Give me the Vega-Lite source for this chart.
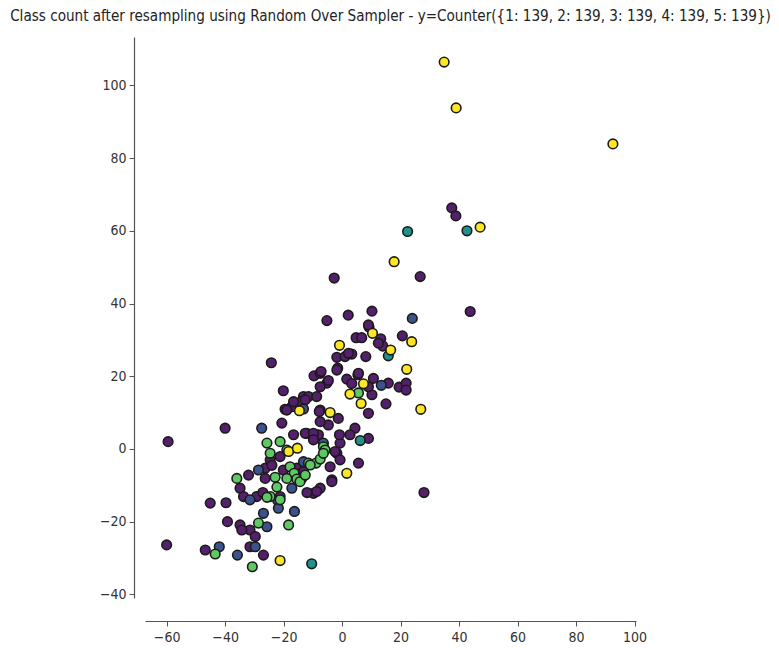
{
  "$schema": "https://vega.github.io/schema/vega-lite/v6.json",
  "autosize": {"type": "none"},
  "padding": {"left": 145, "top": 37, "right": 143, "bottom": 50},
  "width": 491,
  "height": 561,
  "background": "white",
  "title": {
    "text": "Class count after resampling using Random Over Sampler - y=Counter({1: 139, 2: 139, 3: 139, 4: 139, 5: 139})",
    "font": "DejaVu Sans Condensed",
    "fontSize": 15.1,
    "fontWeight": "normal",
    "color": "#222222",
    "anchor": "middle",
    "frame": "group",
    "offset": 13
  },
  "config": {
    "view": {"stroke": null},
    "axis": {
      "grid": false,
      "domainColor": "#555555",
      "domainWidth": 1.2,
      "tickColor": "#555555",
      "tickSize": 5,
      "labelFont": "DejaVu Sans Condensed",
      "labelFontSize": 14,
      "labelColor": "#333333",
      "title": null
    }
  },
  "data": {
    "values": [
      {"x": 37.5, "y": 66.3, "c": 1}, {"x": 38.9, "y": 64.1, "c": 1}, {"x": 26.7, "y": 47.4, "c": 1}, {"x": -2.7, "y": 47, "c": 1},
      {"x": -5.2, "y": 35.3, "c": 1}, {"x": 2.1, "y": 36.8, "c": 1}, {"x": 10.2, "y": 37.9, "c": 1}, {"x": 43.8, "y": 37.8, "c": 1},
      {"x": 28, "y": -12, "c": 1}, {"x": -59.5, "y": 2, "c": 1}, {"x": -60, "y": -26.4, "c": 1},
      {"x": 9.2, "y": 33.5, "c": 1}, {"x": 4.8, "y": 30.6, "c": 1}, {"x": 6.7, "y": 30.6, "c": 1}, {"x": 13.2, "y": 30.3, "c": 1},
      {"x": 20.6, "y": 31.1, "c": 1}, {"x": 13.9, "y": 28.3, "c": 1}, {"x": -1.8, "y": 25.2, "c": 1}, {"x": 1, "y": 25.4, "c": 1},
      {"x": 3.3, "y": 26.1, "c": 1}, {"x": 8.1, "y": 25.4, "c": 1}, {"x": -1.5, "y": 22.2, "c": 1}, {"x": 9, "y": 34.1, "c": 1},
      {"x": -9.6, "y": 20.1, "c": 1}, {"x": -7.5, "y": 20.8, "c": 1}, {"x": -5.2, "y": 18.1, "c": 1}, {"x": 1.6, "y": 19.2, "c": 1},
      {"x": 5.4, "y": 20.4, "c": 1}, {"x": 10.7, "y": 19.4, "c": 1}, {"x": 15.8, "y": 18.1, "c": 1}, {"x": 19.5, "y": 17, "c": 1},
      {"x": 21.9, "y": 18.1, "c": 1}, {"x": 21.9, "y": 16.2, "c": 1}, {"x": 10.2, "y": 14.9, "c": 1}, {"x": 15, "y": 12.4, "c": 1},
      {"x": -13.2, "y": 14.4, "c": 1}, {"x": -7.5, "y": 10.7, "c": 1}, {"x": -4.7, "y": 6.6, "c": 1}, {"x": 9, "y": 9.8, "c": 1},
      {"x": 4.4, "y": 5.7, "c": 1}, {"x": 9, "y": 2.9, "c": 1}, {"x": -12.1, "y": 4.3, "c": 1}, {"x": -8.1, "y": 3.9, "c": 1},
      {"x": -0.7, "y": 1.6, "c": 1}, {"x": -24.2, "y": 23.7, "c": 1}, {"x": -7.2, "y": 21.3, "c": 1}, {"x": -4.7, "y": 18.8, "c": 1},
      {"x": -1.8, "y": 21.7, "c": 1}, {"x": -7.5, "y": 17.1, "c": 1}, {"x": -20.1, "y": 16, "c": 1}, {"x": -11.5, "y": 14.4, "c": 1},
      {"x": -8.7, "y": 14.4, "c": 1}, {"x": -14, "y": 13, "c": 1}, {"x": -19.5, "y": 10.9, "c": 1}, {"x": -17.2, "y": 11.6, "c": 1},
      {"x": -7.8, "y": 10.3, "c": 1}, {"x": -20.6, "y": 7.1, "c": 1}, {"x": -40, "y": 5.7, "c": 1}, {"x": -16.6, "y": 3.9, "c": 1},
      {"x": -12.6, "y": 4.3, "c": 1}, {"x": -9.8, "y": 4.3, "c": 1}, {"x": 2.7, "y": 3.9, "c": 1}, {"x": -24.6, "y": -3, "c": 1},
      {"x": -21.2, "y": -2.1, "c": 1}, {"x": -1.8, "y": -1.2, "c": 1}, {"x": -0.7, "y": -3, "c": 1}, {"x": -4.1, "y": -4.9, "c": 1},
      {"x": -15.5, "y": -5.3, "c": 1}, {"x": -13.2, "y": -6.2, "c": 1}, {"x": -20.1, "y": -5.8, "c": 1}, {"x": -21.2, "y": -13.1, "c": 1},
      {"x": -26.3, "y": -8.1, "c": 1}, {"x": -26.3, "y": -5.3, "c": 1}, {"x": -32, "y": -7.2, "c": 1}, {"x": -34.9, "y": -10.8, "c": 1},
      {"x": -33.7, "y": -13.1, "c": 1}, {"x": -29.2, "y": -13.1, "c": 1}, {"x": -45.1, "y": -14.9, "c": 1}, {"x": -39.7, "y": -14.8, "c": 1},
      {"x": -39.2, "y": -20, "c": 1}, {"x": -34.9, "y": -20.9, "c": 1}, {"x": -31.5, "y": -22.3, "c": 1}, {"x": -34.3, "y": -22.3, "c": 1},
      {"x": -29.7, "y": -24.1, "c": 1}, {"x": -31.5, "y": -26.9, "c": 1}, {"x": -46.8, "y": -27.8, "c": 1}, {"x": -26.9, "y": -29.2, "c": 1},
      {"x": -3.5, "y": -8.5, "c": 1}, {"x": -9.8, "y": -12.2, "c": 1}, {"x": -7.5, "y": -10.8, "c": 1}, {"x": -27.1, "y": -12, "c": 1},
      {"x": 5.6, "y": 20.8, "c": 1}, {"x": 3.3, "y": 18, "c": 1}, {"x": 9, "y": 17.1, "c": 1}, {"x": -16.6, "y": 13, "c": 1},
      {"x": -12.6, "y": 13.5, "c": 1}, {"x": -1.3, "y": 8.4, "c": 1}, {"x": -7.5, "y": 7.5, "c": 1}, {"x": -0.9, "y": 3.9, "c": 1},
      {"x": -9.8, "y": 2.5, "c": 1}, {"x": 5.6, "y": -3.9, "c": 1}, {"x": -3.5, "y": -9, "c": 1}, {"x": -8.7, "y": -11.7, "c": 1},
      {"x": -18.9, "y": 10.7, "c": 1}, {"x": -2.4, "y": -0.7, "c": 1}, {"x": 12.4, "y": 29.1, "c": 1}, {"x": 2.2, "y": 26.3, "c": 1},
      {"x": -24, "y": -4.5, "c": 1}, {"x": -12, "y": -12, "c": 1},
      {"x": 24, "y": 35.9, "c": 2}, {"x": 13.4, "y": 17.5, "c": 2}, {"x": -13.2, "y": 11, "c": 2}, {"x": -27.5, "y": 5.7, "c": 2},
      {"x": -6.4, "y": 1.6, "c": 2}, {"x": -13.2, "y": -3.5, "c": 2}, {"x": -17.2, "y": -10.8, "c": 2}, {"x": -28.6, "y": -5.8, "c": 2},
      {"x": -31.5, "y": -14, "c": 2}, {"x": -26.9, "y": -17.7, "c": 2}, {"x": -25.7, "y": -21.4, "c": 2}, {"x": -16.3, "y": -17.2, "c": 2},
      {"x": -29.7, "y": -26.9, "c": 2}, {"x": -42, "y": -26.9, "c": 2}, {"x": -35.8, "y": -29.2, "c": 2}, {"x": -22, "y": -14.2, "c": 2},
      {"x": -21.8, "y": -16.3, "c": 2},
      {"x": 42.7, "y": 60, "c": 3}, {"x": 22.4, "y": 59.8, "c": 3}, {"x": 15.8, "y": 25.6, "c": 3}, {"x": 6.2, "y": 2.3, "c": 3},
      {"x": -10.4, "y": -31.6, "c": 3},
      {"x": 5.6, "y": 15.4, "c": 4}, {"x": -6.4, "y": 0.6, "c": 4}, {"x": -25.7, "y": 1.6, "c": 4}, {"x": -21.2, "y": 2, "c": 4},
      {"x": -5.8, "y": -0.3, "c": 4}, {"x": -24.6, "y": -1.2, "c": 4}, {"x": -11.5, "y": -3.9, "c": 4}, {"x": -8.9, "y": -3.9, "c": 4},
      {"x": -7.5, "y": -2.8, "c": 4}, {"x": -6.4, "y": -1.2, "c": 4}, {"x": -17.8, "y": -4.9, "c": 4}, {"x": -16.4, "y": -6.7, "c": 4},
      {"x": -13.8, "y": -8.1, "c": 4}, {"x": -15.5, "y": -8.3, "c": 4}, {"x": -18.9, "y": -8.1, "c": 4}, {"x": -22.3, "y": -10.5, "c": 4},
      {"x": -24.6, "y": -13.1, "c": 4}, {"x": -25.7, "y": -13.3, "c": 4}, {"x": -36, "y": -8.1, "c": 4}, {"x": -28.6, "y": -20.4, "c": 4},
      {"x": -18.3, "y": -20.9, "c": 4}, {"x": -43.4, "y": -28.9, "c": 4}, {"x": -30.7, "y": -32.4, "c": 4}, {"x": -18.9, "y": -0.3, "c": 4},
      {"x": -22.9, "y": -7.8, "c": 4}, {"x": -14.4, "y": -9, "c": 4}, {"x": -12.6, "y": -7.2, "c": 4}, {"x": -10.9, "y": -4.4, "c": 4},
      {"x": -21.2, "y": -14, "c": 4},
      {"x": 34.9, "y": 106.4, "c": 5}, {"x": 39, "y": 93.8, "c": 5}, {"x": 92.6, "y": 83.9, "c": 5}, {"x": 47.2, "y": 61, "c": 5},
      {"x": 17.8, "y": 51.5, "c": 5}, {"x": 10.4, "y": 31.8, "c": 5}, {"x": 23.8, "y": 29.5, "c": 5}, {"x": 16.6, "y": 27.2, "c": 5},
      {"x": -0.9, "y": 28.5, "c": 5}, {"x": 22.1, "y": 21.9, "c": 5}, {"x": 7.3, "y": 17.9, "c": 5}, {"x": 2.7, "y": 15.1, "c": 5},
      {"x": 6.5, "y": 12.5, "c": 5}, {"x": 26.9, "y": 10.9, "c": 5}, {"x": -4.1, "y": 10, "c": 5}, {"x": -14.6, "y": 10.5, "c": 5},
      {"x": -18.3, "y": -0.7, "c": 5}, {"x": -15.3, "y": 0.2, "c": 5}, {"x": 1.6, "y": -6.7, "c": 5}, {"x": -21.2, "y": -30.7, "c": 5}
    ]
  },
  "mark": {"type": "point", "filled": true, "shape": "circle", "size": 92, "stroke": "#1a1a1a", "strokeWidth": 1.6, "opacity": 1},
  "encoding": {
    "x": {
      "field": "x", "type": "quantitative",
      "scale": {"domain": [-67.4, 100.5], "nice": false, "zero": false},
      "axis": {"values": [-60, -40, -20, 0, 20, 40, 60, 80, 100], "offset": 23, "labelPadding": 4}
    },
    "y": {
      "field": "y", "type": "quantitative",
      "scale": {"domain": [-41, 113.3], "nice": false, "zero": false},
      "axis": {"values": [-40, -20, 0, 20, 40, 60, 80, 100], "offset": 11, "labelPadding": 3}
    },
    "color": {
      "field": "c", "type": "nominal",
      "scale": {"domain": [1, 2, 3, 4, 5], "range": ["#55206b", "#3b528b", "#21918c", "#5ec962", "#fde725"]},
      "legend": null
    }
  }
}
